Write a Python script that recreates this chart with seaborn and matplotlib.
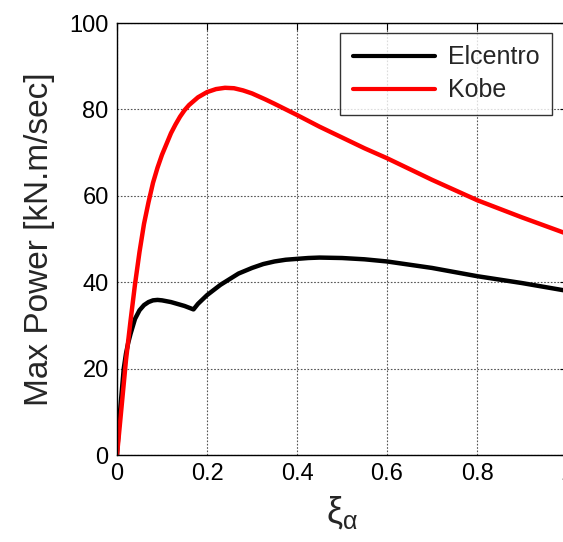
import matplotlib
matplotlib.use("Agg")
import matplotlib.pyplot as plt
import seaborn as sns
import pandas as pd

# ---- data ----
kobe_x = [0, 0.01, 0.02, 0.03, 0.04, 0.05, 0.06, 0.07, 0.08, 0.09, 0.10, 0.11, 0.12,
          0.13, 0.14, 0.15, 0.16, 0.18, 0.20, 0.22, 0.24, 0.26, 0.28, 0.30, 0.33,
          0.35, 0.375, 0.40, 0.45, 0.50, 0.55, 0.60, 0.70, 0.80, 0.90, 1.00]
kobe_y = [0, 11, 22, 31, 39.5, 47, 53.5, 58.5, 63, 66.5, 69.5, 72, 74.5,
          76.5, 78.3, 79.8, 81, 82.8, 84, 84.7, 85, 84.9, 84.4, 83.7, 82.3,
          81.3, 80, 78.7, 76, 73.5, 71, 68.7, 63.7, 59, 55, 51.2]

elcentro_x = [0, 0.005, 0.01, 0.015, 0.02, 0.025, 0.03, 0.04, 0.05, 0.06, 0.07, 0.08,
              0.09, 0.10, 0.11, 0.12, 0.13, 0.14, 0.15, 0.16, 0.17, 0.18, 0.19, 0.20,
              0.21, 0.23, 0.25, 0.27, 0.30, 0.325, 0.35, 0.375, 0.40, 0.425, 0.45,
              0.50, 0.55, 0.60, 0.70, 0.80, 0.90, 1.00]
elcentro_y = [0, 8, 14, 20, 23.5, 26, 28, 31.5, 33.5, 34.7, 35.4, 35.8,
              35.9, 35.8, 35.6, 35.4, 35.1, 34.8, 34.5, 34.1, 33.7, 35, 36, 37,
              37.8, 39.4, 40.7, 42, 43.3, 44.2, 44.8, 45.2, 45.4, 45.6, 45.7,
              45.6, 45.3, 44.8, 43.3, 41.4, 39.8, 38.0]

series_names = ["Elcentro", "Kobe"]
series_colors = ["#000000", "#ff0000"]
x_ticks = [0, 0.2, 0.4, 0.6, 0.8, 1.0]
x_ticklabels = ["0", "0.2", "0.4", "0.6", "0.8", "1"]
y_ticks = [0, 20, 40, 60, 80, 100]

df = pd.concat([
    pd.DataFrame({"xi": elcentro_x, "power": elcentro_y, "record": series_names[0]}),
    pd.DataFrame({"xi": kobe_x, "power": kobe_y, "record": series_names[1]}),
], ignore_index=True)

sns.set_style("white")
plt.rcParams["font.family"] = ["Liberation Sans", "DejaVu Sans"]

W, H = 563, 542
fig = plt.figure(figsize=(W / 100, H / 100), dpi=100)
ax = fig.add_axes([117 / W, 87 / H, 450 / W, 432 / H])

sns.lineplot(data=df, x="xi", y="power", hue="record", hue_order=series_names,
             palette=series_colors, linewidth=3.2, ax=ax, sort=False,
             estimator=None, legend=True)

ax.set_xlim(0, 1)
ax.set_ylim(0, 100)
ax.set_xticks(x_ticks)
ax.set_xticklabels(x_ticklabels)
ax.set_yticks(y_ticks)
ax.grid(True, linestyle=(0, (1.5, 1.5)), color="#555555", linewidth=0.8)
ax.tick_params(direction="in", length=5, width=0.8, labelsize=17,
               top=True, right=True, pad=6, colors="black")
for s in ax.spines.values():
    s.set_color("black")
    s.set_linewidth(1.0)

ax.set_xlabel(r"$\mathregular{\xi_{\alpha}}$", fontsize=26, labelpad=6)
ax.set_ylabel("Max Power [kN.m/sec]", fontsize=24, labelpad=10)

handles, labels = ax.get_legend_handles_labels()
leg = ax.legend(handles, labels, loc="upper right",
                bbox_to_anchor=(552 / W, 1 - 33 / H), bbox_transform=fig.transFigure,
                borderaxespad=0, fontsize=18, frameon=True, fancybox=False,
                handlelength=3.3, handletextpad=0.5, borderpad=0.5,
                labelspacing=0.35)
leg.get_frame().set_edgecolor("black")
leg.get_frame().set_linewidth(1.0)
for lh in leg.get_lines():
    lh.set_linewidth(3)

fig.savefig("out.png", dpi=100)
